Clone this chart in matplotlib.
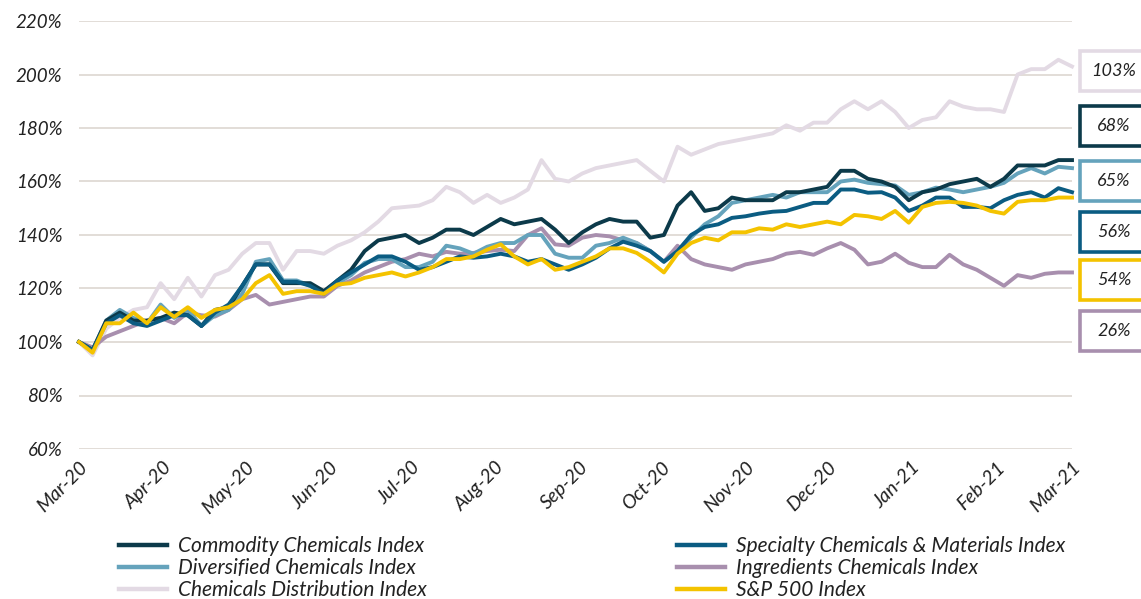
import matplotlib
matplotlib.use('Agg')
import matplotlib.pyplot as plt
import matplotlib.dates as mdates
from matplotlib.patches import Rectangle
from matplotlib.ticker import FuncFormatter
import pandas as pd

plt.rcParams['font.family'] = ['Lato', 'DejaVu Sans']

# 5-day sampling, Mar-20 .. Mar-21
dates = pd.date_range('2020-03-01', periods=74, freq='5D')

commodity = [100, 97, 108, 111, 108, 108, 109, 111, 110, 106, 112, 113, 121, 129, 129, 122,
             122, 122, 119, 123, 127, 134, 138, 139, 140, 137, 139, 142, 142, 140, 143, 146,
             144, 145, 146, 142, 137, 141, 144, 146, 145, 145, 139, 140, 151, 156, 149, 150,
             154, 153, 153, 153, 156, 156, 157, 158, 164, 164, 161, 160, 158, 153, 156, 157,
             159, 160, 161, 158, 161, 166, 166, 166, 168, 168]
specialty = [100, 97, 107, 110, 107, 106, 108, 110, 110, 106, 111, 114, 121, 129, 129, 122.5,
             122.5, 121, 118, 123, 126, 129, 132, 132, 130, 127, 128, 130, 132, 131.5, 132, 133,
             132, 130, 131, 129, 127, 129, 131.5, 135, 137.5, 136, 134, 130, 134, 140, 143, 144,
             146.4, 147, 148, 148.7, 149, 150.5, 152, 152, 157, 157, 155.8, 156, 154, 149, 151, 154,
             154, 150.5, 150.5, 150, 153, 155, 156, 154, 157.5, 156]
diversified = [100, 97, 108, 112, 109, 107, 114, 109, 112, 106, 110, 112, 118, 130, 131, 123,
               123, 121, 119, 122, 125, 129.6, 131, 131, 128, 128, 130, 136, 135, 133, 135.6, 137,
               137, 140, 140, 133, 131.5, 131.5, 136, 137, 139, 137, 134, 130, 134, 139, 144, 147,
               152, 153, 154, 155, 154, 156, 156, 156, 160, 160.7, 159.5, 159, 158.5, 155, 156, 157.7,
               157, 156, 157, 158, 159.5, 163, 165, 163, 165.5, 165]
ingredients = [100, 98, 102, 104, 106, 108, 109, 107, 111, 110, 109.5, 112, 116, 117.6, 114, 115,
               116, 117, 117, 121, 123, 126, 128, 130, 131, 133, 132, 133.7, 133, 133.3, 134, 134.5,
               134, 140, 142.5, 136.5, 136, 139, 140, 139.5, 138, 137, 134, 130, 136, 131, 129, 128,
               127, 129, 130, 131, 133, 133.7, 132.6, 135, 137, 134.5, 129, 130, 133, 129.6, 128, 128,
               132.6, 129, 127, 124, 121, 125, 124, 125.5, 126, 126]
distribution = [100, 95, 105, 109, 112, 113, 122, 116, 124, 117, 125, 127, 133, 137, 137, 127,
                134, 134, 133, 136, 138, 141, 145, 150, 150.5, 151, 153, 158, 156, 152, 155, 152,
                154, 157, 168, 161, 160, 163, 165, 166, 167, 168, 164, 160, 173, 170, 172, 174,
                175, 176, 177, 178, 181, 179, 182, 182, 187, 190, 187, 190, 186, 180, 183, 184,
                190, 188, 187, 187, 186, 200, 202, 202, 205.5, 203]
sp500 = [100, 96, 107, 107, 111, 107, 113, 109.4, 113, 109, 112, 113, 116, 122, 125, 118,
         119, 119, 118, 121.5, 122, 124, 125, 126, 124.5, 126, 128, 131, 131, 132, 134.5, 136.5,
         132, 129, 131, 127, 128, 130, 132, 135, 135, 133.3, 130, 126, 133, 137, 139, 138,
         141, 141, 142.5, 142, 144, 143, 144, 145, 144, 147.5, 147, 146, 149, 144.6, 150.5, 152,
         152.4, 152, 151, 149, 148, 152.4, 153, 153, 154, 154]

names = ['Commodity Chemicals Index', 'Diversified Chemicals Index', 'Chemicals Distribution Index',
         'Specialty Chemicals & Materials Index', 'Ingredients Chemicals Index', 'S&P 500 Index']
colors = {'comm': '#0C3A4A', 'div': '#65A3BC', 'dist': '#E3DAE4',
          'spec': '#0B5C82', 'ingr': '#A88FAE', 'sp': '#F4C300'}

W, H = 1141, 599
fig = plt.figure(figsize=(W / 100, H / 100), dpi=100)
ax = fig.add_axes([79 / W, 1 - 449 / H, (1072 - 79) / W, (449 - 21) / H])

lw = 2.8
l_dist, = ax.plot(dates, distribution, color=colors['dist'], lw=lw, clip_on=False)
l_ingr, = ax.plot(dates, ingredients, color=colors['ingr'], lw=lw, clip_on=False)
l_div, = ax.plot(dates, diversified, color=colors['div'], lw=lw, clip_on=False)
l_comm, = ax.plot(dates, commodity, color=colors['comm'], lw=lw, clip_on=False)
l_spec, = ax.plot(dates, specialty, color=colors['spec'], lw=lw, clip_on=False)
l_sp, = ax.plot(dates, sp500, color=colors['sp'], lw=lw, clip_on=False)

ax.set_ylim(60, 220)
ax.set_yticks(range(60, 221, 20))
ax.yaxis.set_major_formatter(FuncFormatter(lambda v, p: '%d%%' % v))
ax.set_xlim(pd.Timestamp('2020-03-01'), pd.Timestamp('2021-03-01'))
ax.set_xticks(pd.date_range('2020-03-01', '2021-03-01', freq='MS'))
ax.xaxis.set_major_formatter(mdates.DateFormatter('%b-%y'))
ax.grid(axis='y', color='#E2DDD7', lw=1.4)
ax.set_axisbelow(True)
for s in ax.spines.values():
    s.set_visible(False)
ax.tick_params(length=0, colors='#222222')
ax.tick_params(axis='y', pad=12, labelsize=13.5)
ax.tick_params(axis='x', pad=7, labelsize=14)
for t in ax.get_yticklabels():
    t.set_fontstyle('italic')
for t in ax.get_xticklabels():
    t.set_fontstyle('italic')
    t.set_rotation(45)
    t.set_ha('right')
    t.set_rotation_mode('anchor')

# end-value boxes on the right
boxes = [(distribution, 'dist', 71), (commodity, 'comm', 126), (diversified, 'div', 181),
         (specialty, 'spec', 232), (sp500, 'sp', 280), (ingredients, 'ingr', 331)]
for series, key, yc in boxes:
    bh = 40
    fig.add_artist(Rectangle((1080 / W, 1 - (yc + bh / 2) / H), 80 / W, bh / H,
                             transform=fig.transFigure, facecolor='white',
                             edgecolor=colors[key], lw=2.6, clip_on=False))
    fig.text(1114 / W, 1 - yc / H, '%d%%' % round(series[-1] - 100), ha='center', va='center',
             fontsize=13, fontstyle='italic', color='#222222')

leg = fig.legend([l_comm, l_div, l_dist, l_spec, l_ingr, l_sp], names, ncol=2,
                 loc='upper left', bbox_to_anchor=(119 / W, 1 - 536 / H), frameon=False,
                 borderpad=0, borderaxespad=0, handlelength=2.3, handletextpad=0.55,
                 columnspacing=12.0, labelspacing=0.1, prop={'size': 15, 'style': 'italic'})
for line in leg.get_lines():
    line.set_linewidth(3.2)
for t in leg.get_texts():
    t.set_color('#222222')

fig.savefig('out.png', dpi=100)
